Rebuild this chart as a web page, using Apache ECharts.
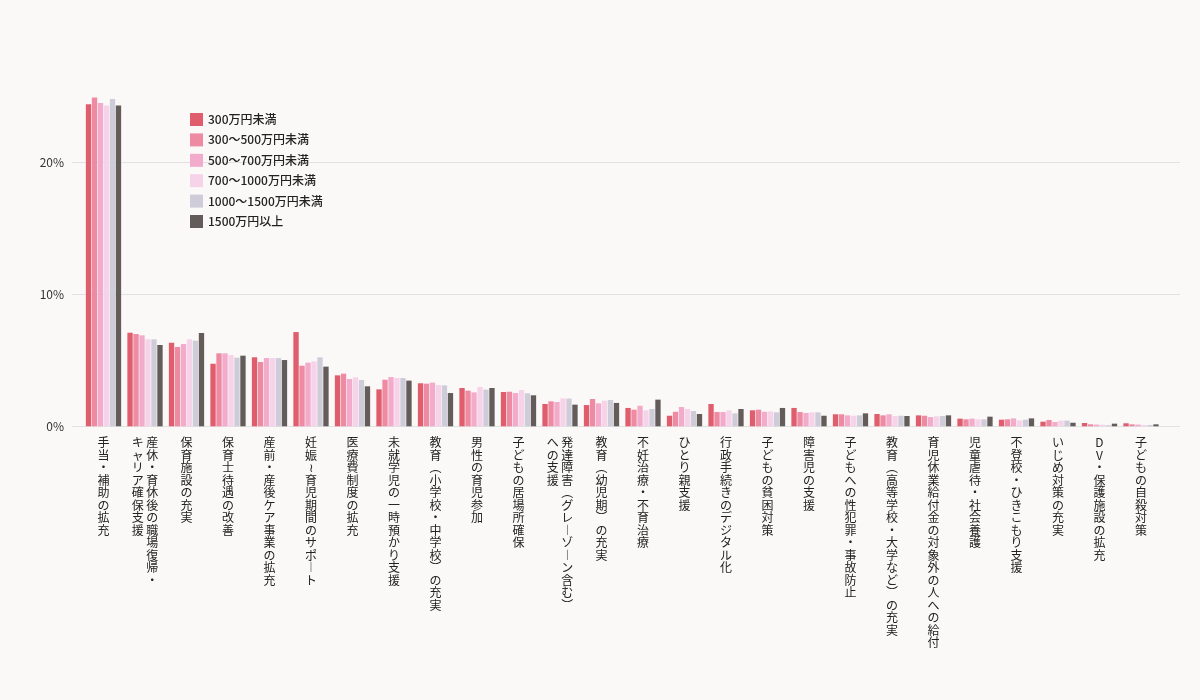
<!DOCTYPE html>
<html><head><meta charset="utf-8">
<script src="https://cdn.jsdelivr.net/npm/echarts@6/dist/echarts.min.js"></script>
<style>html,body{margin:0;padding:0;background:#faf9f7;}#c{width:1200px;height:700px;}</style>
</head><body><div id="c"></div>
<script>
const categories = [
  '手当・補助の拡充',
  '産休・育休後の職場復帰・\nキャリア確保支援',
  '保育施設の充実',
  '保育士待遇の改善',
  '産前・産後ケア事業の拡充',
  '妊娠〜育児期間のサポート',
  '医療費制度の拡充',
  '未就学児の一時預かり支援',
  '教育（小学校・中学校）の充実',
  '男性の育児参加',
  '子どもの居場所確保',
  '発達障害（グレーゾーン含む）\nへの支援',
  '教育（幼児期）の充実',
  '不妊治療・不育治療',
  'ひとり親支援',
  '行政手続きのデジタル化',
  '子どもの貧困対策',
  '障害児の支援',
  '子どもへの性犯罪・事故防止',
  '教育（高等学校・大学など）の充実',
  '育児休業給付金の対象外の人への給付',
  '児童虐待・社会養護',
  '不登校・ひきこもり支援',
  'いじめ対策の充実',
  'DV・保護施設の拡充',
  '子どもの自殺対策'
];
const seriesNames = ['300万円未満','300〜500万円未満','500〜700万円未満','700〜1000万円未満','1000〜1500万円未満','1500万円以上'];
const s300 = [24.4,7.09,6.33,4.74,5.23,7.14,3.86,2.80,3.26,2.90,2.60,1.69,1.61,1.39,0.80,1.69,1.21,1.39,0.91,0.93,0.83,0.58,0.50,0.35,0.25,0.23];
const s300_500 = [24.9,6.99,6.01,5.53,4.87,4.59,3.99,3.53,3.23,2.70,2.62,1.89,2.07,1.26,1.10,1.08,1.26,1.08,0.91,0.83,0.80,0.53,0.53,0.48,0.15,0.15];
const s500_700 = [24.5,6.89,6.23,5.53,5.17,4.82,3.58,3.73,3.31,2.57,2.52,1.84,1.74,1.56,1.46,1.08,1.10,1.01,0.83,0.91,0.70,0.58,0.60,0.33,0.13,0.13];
const s700_1000 = [24.3,6.59,6.59,5.40,5.17,4.92,3.71,3.66,3.13,2.98,2.75,2.12,1.94,1.21,1.31,1.21,1.13,1.06,0.80,0.78,0.76,0.53,0.45,0.43,0.13,0.10];
const s1000_1500 = [24.8,6.59,6.49,5.20,5.17,5.23,3.51,3.66,3.10,2.78,2.50,2.10,1.99,1.31,1.16,0.98,1.06,1.06,0.83,0.80,0.78,0.53,0.50,0.43,0.08,0.10];
const s1500 = [24.3,6.16,7.07,5.35,5.02,4.52,3.03,3.46,2.52,2.90,2.35,1.64,1.77,2.02,0.93,1.31,1.39,0.80,0.98,0.78,0.83,0.73,0.60,0.27,0.20,0.15];
const yTicks = [0, 10, 20];
const colors = ['#e05d6d','#ee8ba3','#f3abcb','#f7d3e9','#cfccd9','#645c5a'];

const allData = [s300, s300_500, s500_700, s700_1000, s1000_1500, s1500];

const vmap = {'（':'︵','）':'︶','ー':'︱','〜':'≀'};
function vertical(name){
  const cols = name.split('\n').map(c => Array.from(c).map(ch => vmap[ch] || ch));
  if (cols.length === 1) return cols[0].join('\n');
  const n = Math.max(cols[0].length, cols[1].length);
  const lines = [];
  for (let i = 0; i < n; i++) {
    const r = cols[0][i] || '　';
    const l = cols[1][i] || '　';
    lines.push(l + ' ' + r);
  }
  return lines.join('\n');
}

const chart = echarts.init(document.getElementById('c'));
const gridTop = 96.3, gridBottom = 273.7;
chart.setOption({
  backgroundColor: '#faf9f7',
  textStyle: {fontFamily: '"Noto Sans CJK JP", "Noto Sans", sans-serif'},
  legend: {
    orient: 'vertical', left: 185, top: 108,
    itemWidth: 13, itemHeight: 13, itemGap: 7.4,
    icon: 'rect',
    textStyle: {fontSize: 12, color: '#222', fontWeight: 500, fontFamily: '"Noto Sans CJK JP", sans-serif'},
    data: seriesNames
  },
  grid: [
    {left: 82.75, right: 38.25, top: gridTop, bottom: gridBottom},
    {left: 72, right: 20, top: gridTop, bottom: gridBottom}
  ],
  xAxis: [
    {type: 'category', gridIndex: 0, data: categories,
     axisLine: {show: false}, axisTick: {show: false},
     axisLabel: {interval: 0, margin: 10, fontSize: 12, lineHeight: 12.5, color: '#222',
       fontFamily: '"Noto Sans CJK JP", sans-serif', formatter: vertical}},
    {type: 'value', gridIndex: 1, show: false, min: 0, max: 1}
  ],
  yAxis: [
    {type: 'value', gridIndex: 0, min: 0, max: 25, interval: 10, show: false, splitLine: {show: false}},
    {type: 'value', gridIndex: 1, min: 0, max: 25, interval: 10,
     axisLine: {show: false}, axisTick: {show: false},
     axisLabel: {margin: 8, fontSize: 12, color: '#333', showMaxLabel: false,
       formatter: v => (yTicks.indexOf(v) >= 0 ? v + '%' : '')},
     splitLine: {show: true, showMaxLine: false, lineStyle: {color: '#e2e2e2', width: 1}}}
  ],
  series: allData.map((d, i) => ({
    name: seriesNames[i], type: 'bar', xAxisIndex: 0, yAxisIndex: 0,
    data: d, barCategoryGap: '15%', barGap: '12%',
    itemStyle: {color: colors[i]}
  }))
});
</script></body></html>
